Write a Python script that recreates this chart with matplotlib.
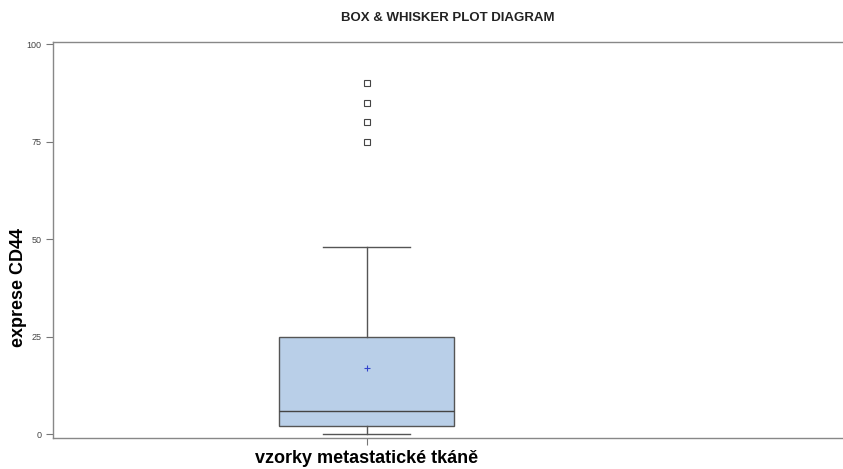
import matplotlib.pyplot as plt

plt.rcParams['font.family'] = ['Liberation Sans', 'DejaVu Sans']

# box statistics
category = 'vzorky metastatické tkáně'
whisker_low = 0
q1 = 2
median = 6
mean = 17
q3 = 25
whisker_high = 48
outliers = [75, 80, 85, 90]

yticks = [0, 25, 50, 75, 100]

stats = [{
    'label': category,
    'whislo': whisker_low,
    'q1': q1,
    'med': median,
    'mean': mean,
    'q3': q3,
    'whishi': whisker_high,
    'fliers': outliers,
}]

fig = plt.figure(figsize=(8.43, 4.69), dpi=100)
ax = fig.add_axes([0.063, 0.066, 0.937, 0.844])

edge = '#555555'
ax.bxp(stats, positions=[1], widths=0.56, patch_artist=True, showmeans=True,
       boxprops=dict(facecolor='#b9cfe8', edgecolor=edge, linewidth=1.0),
       medianprops=dict(color='#444444', linewidth=1.0),
       whiskerprops=dict(color=edge, linewidth=1.0),
       capprops=dict(color=edge, linewidth=1.0),
       capwidths=0.28,
       meanprops=dict(marker='+', markeredgecolor='#3344cc', markersize=5, markeredgewidth=0.8),
       flierprops=dict(marker='s', markerfacecolor='white', markeredgecolor='#444444',
                       markersize=4, markeredgewidth=0.8))

ax.set_xlim(0, 2.52)
ax.set_ylim(-1, 100.5)
ax.set_yticks(yticks)
ax.set_yticklabels([str(t) for t in yticks], fontsize=6.5, color='#444444')
ax.set_xticks([1])
ax.set_xticklabels([category], fontsize=13, fontweight='bold', color='black')
ax.tick_params(axis='both', color='#777777', length=5, width=0.8)

ax.spines['right'].set_visible(False)
for side in ['left', 'top', 'bottom']:
    ax.spines[side].set_color('#888888')
    ax.spines[side].set_linewidth(1.0)

ax.set_ylabel('exprese CD44', fontsize=13, fontweight='bold')
ax.yaxis.set_label_coords(-0.033, 0.38)
ax.set_title('BOX & WHISKER PLOT DIAGRAM', fontsize=9.5, fontweight='bold', pad=15, color='#222222')

fig.savefig('out.png', dpi=100)
